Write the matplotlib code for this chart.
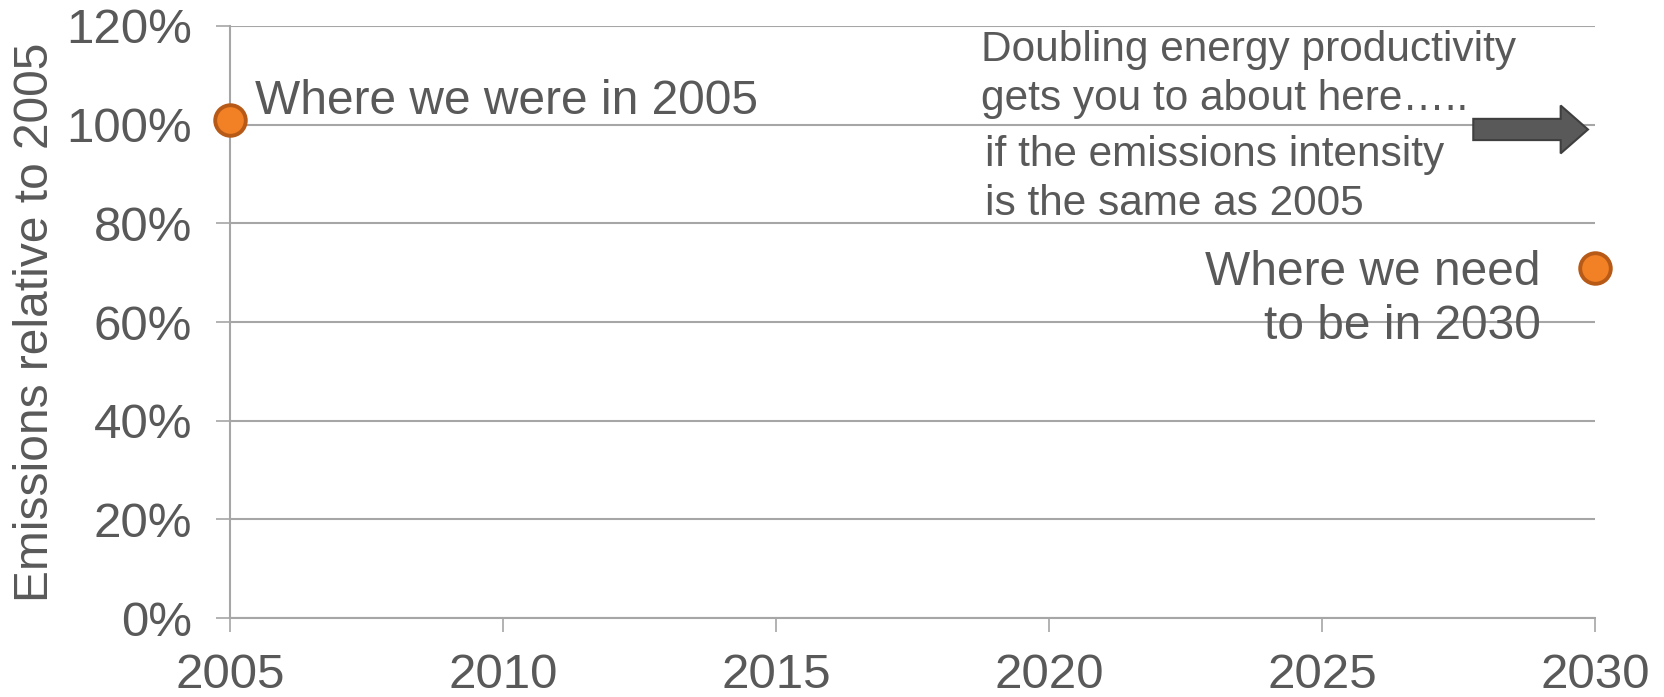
import matplotlib
matplotlib.use("Agg")
import matplotlib.pyplot as plt
from matplotlib.ticker import FuncFormatter

# data
years = [2005, 2030]
emissions = [101, 71]  # % relative to 2005
arrow_level = 99
x_ticks = [2005, 2010, 2015, 2020, 2025, 2030]
y_ticks = [0, 20, 40, 60, 80, 100, 120]

TEXT = "#595959"
GRID = "#A6A6A6"

plt.rcParams['font.family'] = ['Liberation Sans', 'DejaVu Sans']

fig = plt.figure(figsize=(16.65, 6.97), dpi=100)
ax = fig.add_axes([0.138, 0.113, 0.820, 0.850])

ax.set_xlim(2005, 2030)
ax.set_ylim(0, 120)
ax.set_xticks(x_ticks)
ax.set_yticks(y_ticks)
ax.yaxis.set_major_formatter(FuncFormatter(lambda v, p: f"{v:.0f}%"))

ax.grid(axis='y', color=GRID, lw=1.5)
ax.set_axisbelow(True)
for s in ['top', 'right']:
    ax.spines[s].set_visible(False)
for s in ['left', 'bottom']:
    ax.spines[s].set_color(GRID)
    ax.spines[s].set_linewidth(1.5)

ax.tick_params(axis='both', colors=GRID, labelcolor=TEXT, labelsize=35.5,
               length=10, width=1.2)
ax.tick_params(axis='x', pad=15)
ax.tick_params(axis='y', pad=17)

ax.set_ylabel('Emissions relative to 2005', fontsize=34.5, color=TEXT, labelpad=6)

ax.plot(years, emissions, linestyle='none', marker='o', markersize=22,
        markerfacecolor='#F28024', markeredgecolor='#B85A17',
        markeredgewidth=2.8, clip_on=False, zorder=5)

ax.arrow(2027.77, arrow_level, 2.1, 0, width=4.3, head_width=9.7,
         head_length=0.5, length_includes_head=True,
         facecolor='#595959', edgecolor='#3F3F3F', lw=1.5, zorder=4)

ax.text(2005.46, 104.7, 'Where we were in 2005', fontsize=34.5, color=TEXT,
        ha='left', va='center')
ax.text(2018.75, 110.2, 'Doubling energy productivity\ngets you to about here…..',
        fontsize=30.5, color=TEXT, ha='left', va='center', linespacing=1.3)
ax.text(2018.82, 88.8, 'if the emissions intensity\nis the same as 2005',
        fontsize=30.5, color=TEXT, ha='left', va='center', linespacing=1.3)
ax.text(2029.0, 64.6, 'Where we need\nto be in 2030', fontsize=34.5, color=TEXT,
        ha='right', va='center', linespacing=1.25)

fig.savefig('out.png', dpi=100)
